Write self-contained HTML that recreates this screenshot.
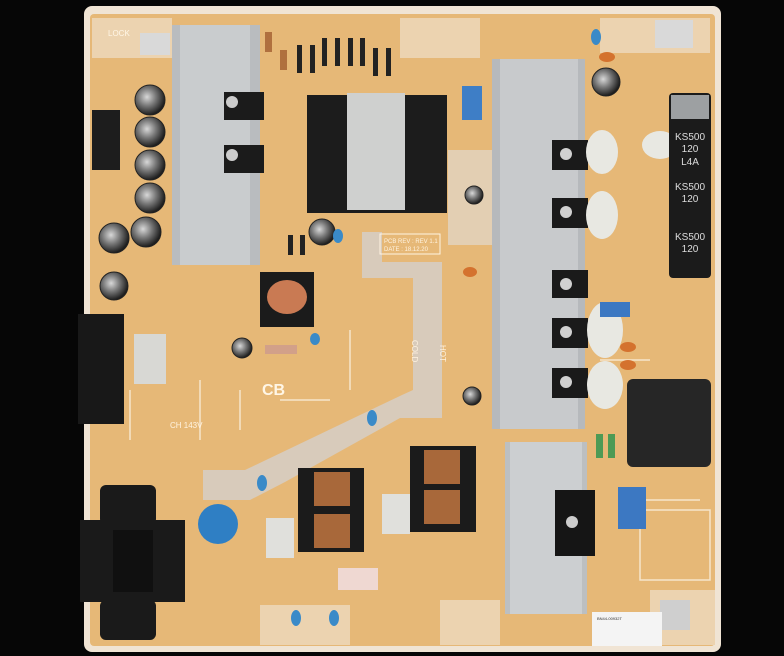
<!DOCTYPE html>
<html><head><meta charset="utf-8"><style>
html,body{margin:0;padding:0;background:#050505;}
svg{display:block;font-family:"Liberation Sans",sans-serif;}
</style></head><body>
<svg width="784" height="656" viewBox="0 0 784 656" xmlns="http://www.w3.org/2000/svg">
<defs>
<radialGradient id="cap" cx="40%" cy="40%" r="60%"><stop offset="0" stop-color="#d8d8d8"/><stop offset="0.5" stop-color="#777"/><stop offset="1" stop-color="#1e1e1e"/></radialGradient>
</defs>
<rect width="784" height="656" fill="#060606"/>
<rect x="84" y="6" width="637" height="646" rx="8" fill="#f0e4d4"/>
<rect x="90" y="14" width="625" height="632" rx="4" fill="#e6b877"/>
<rect x="92" y="18" width="80" height="40" fill="#ecd3b0"/>
<rect x="400" y="18" width="80" height="40" fill="#ecd3b0"/>
<rect x="600" y="18" width="110" height="35" fill="#ecd3b0"/>
<rect x="440" y="600" width="60" height="45" fill="#ecd3b0"/>
<rect x="650" y="590" width="65" height="55" fill="#ecd3b0"/>
<rect x="260" y="605" width="90" height="40" fill="#ecd3b0"/>
<!-- silkscreen lines -->
<g stroke="#f6e6cc" stroke-width="1.5" fill="none">
<line x1="200" y1="380" x2="200" y2="440"/><line x1="240" y1="390" x2="240" y2="430"/><line x1="300" y1="460" x2="300" y2="480"/>
<line x1="280" y1="400" x2="330" y2="400"/><line x1="600" y1="360" x2="650" y2="360"/><line x1="640" y1="500" x2="700" y2="500"/>
<rect x="640" y="510" width="70" height="70"/><line x1="130" y1="390" x2="130" y2="440"/><line x1="350" y1="330" x2="350" y2="390"/>
</g>
<polygon points="362,232 382,232 382,262 442,262 442,418 400,418 285,482 250,500 203,500 203,470 245,470 402,395 413,390 413,278 362,278" fill="#d8cbbb"/>
<polygon points="448,150 492,150 492,245 448,245" fill="#e3cfb3"/>
<rect x="172" y="25" width="88" height="240" fill="#b9bcbf"/>
<rect x="180" y="25" width="70" height="240" fill="#c9ccce"/>
<rect x="224" y="92" width="40" height="28" fill="#1b1b1b"/>
<rect x="224" y="145" width="40" height="28" fill="#1b1b1b"/>
<circle cx="232" cy="102" r="6" fill="#ccc"/><circle cx="232" cy="155" r="6" fill="#ccc"/>
<rect x="492" y="59" width="93" height="370" fill="#b6b9bc"/>
<rect x="500" y="59" width="78" height="370" fill="#c8cacc"/>
<g fill="#1a1a1a">
<rect x="552" y="140" width="36" height="30"/><rect x="552" y="198" width="36" height="30"/>
<rect x="552" y="270" width="36" height="28"/><rect x="552" y="318" width="36" height="30"/>
<rect x="552" y="368" width="36" height="30"/></g>
<g fill="#d0d0d0"><circle cx="566" cy="154" r="6"/><circle cx="566" cy="212" r="6"/><circle cx="566" cy="284" r="6"/><circle cx="566" cy="332" r="6"/><circle cx="566" cy="382" r="6"/></g>
<g fill="#e8e8e2"><ellipse cx="602" cy="152" rx="16" ry="22"/><ellipse cx="602" cy="215" rx="16" ry="24"/><ellipse cx="605" cy="330" rx="18" ry="28"/><ellipse cx="605" cy="385" rx="18" ry="24"/><ellipse cx="660" cy="145" rx="18" ry="14"/></g>
<rect x="505" y="442" width="82" height="172" fill="#bcbfc1"/>
<rect x="510" y="442" width="72" height="172" fill="#cccfd1"/>
<rect x="555" y="490" width="40" height="66" fill="#151515"/>
<circle cx="572" cy="522" r="6" fill="#ccc"/>
<rect x="307" y="95" width="140" height="118" fill="#1c1c1c"/>
<rect x="347" y="93" width="58" height="117" fill="#cfd0cf"/>
<rect x="462" y="86" width="20" height="34" fill="#3e7ec6"/>
<rect x="669" y="93" width="42" height="185" rx="4" fill="#1b1b1b"/>
<rect x="671" y="95" width="38" height="24" fill="#9da0a2"/>
<text x="690" y="140" fill="#ddd" font-size="10" text-anchor="middle">KS500</text>
<text x="690" y="152" fill="#ddd" font-size="10" text-anchor="middle">120</text>
<text x="690" y="165" fill="#ddd" font-size="10" text-anchor="middle">L4A</text>
<text x="690" y="190" fill="#ddd" font-size="10" text-anchor="middle">KS500</text>
<text x="690" y="202" fill="#ddd" font-size="10" text-anchor="middle">120</text>
<text x="690" y="240" fill="#ddd" font-size="10" text-anchor="middle">KS500</text>
<text x="690" y="252" fill="#ddd" font-size="10" text-anchor="middle">120</text>
<rect x="92" y="110" width="28" height="60" fill="#1d1d1d"/>
<rect x="78" y="314" width="46" height="110" fill="#181818"/>
<rect x="134" y="334" width="32" height="50" fill="#d8d8d4"/>
<g fill="url(#cap)" stroke="#222" stroke-width="1">
<circle cx="150" cy="100" r="15"/><circle cx="150" cy="132" r="15"/><circle cx="150" cy="165" r="15"/><circle cx="150" cy="198" r="15"/>
<circle cx="114" cy="238" r="15"/><circle cx="146" cy="232" r="15"/><circle cx="114" cy="286" r="14"/>
<circle cx="322" cy="232" r="13"/><circle cx="242" cy="348" r="10"/><circle cx="606" cy="82" r="14"/><circle cx="474" cy="195" r="9"/><circle cx="472" cy="396" r="9"/></g>
<rect x="260" y="272" width="54" height="55" fill="#1b1b1b"/>
<ellipse cx="287" cy="297" rx="20" ry="17" fill="#c97a53"/>
<rect x="298" y="468" width="66" height="84" fill="#1b1b1b"/>
<rect x="314" y="472" width="36" height="34" fill="#a8683a"/><rect x="314" y="514" width="36" height="34" fill="#a8683a"/>
<rect x="410" y="446" width="66" height="86" fill="#1b1b1b"/>
<rect x="424" y="450" width="36" height="34" fill="#a8683a"/><rect x="424" y="490" width="36" height="34" fill="#a8683a"/>
<rect x="266" y="518" width="28" height="40" fill="#e0e0dc"/>
<rect x="382" y="494" width="28" height="40" fill="#e0e0dc"/>
<rect x="338" y="568" width="40" height="22" fill="#efd8d2"/>
<rect x="618" y="487" width="28" height="42" fill="#3c78c2"/>
<rect x="600" y="302" width="30" height="15" fill="#3c78c2"/>
<circle cx="218" cy="524" r="20" fill="#2f7fc4"/>
<rect x="100" y="485" width="56" height="40" rx="6" fill="#1a1a1a"/>
<rect x="80" y="520" width="105" height="82" fill="#1a1a1a"/>
<rect x="100" y="600" width="56" height="40" rx="6" fill="#1a1a1a"/>
<rect x="113" y="530" width="40" height="62" fill="#101010"/>
<rect x="627" y="379" width="84" height="88" rx="6" fill="#262626"/>
<g fill="#3a8ac8"><ellipse cx="596" cy="37" rx="5" ry="8"/><ellipse cx="372" cy="418" rx="5" ry="8"/><ellipse cx="262" cy="483" rx="5" ry="8"/><ellipse cx="296" cy="618" rx="5" ry="8"/><ellipse cx="334" cy="618" rx="5" ry="8"/><ellipse cx="338" cy="236" rx="5" ry="7"/><ellipse cx="315" cy="339" rx="5" ry="6"/></g>
<g fill="#d4722e"><ellipse cx="607" cy="57" rx="8" ry="5"/><ellipse cx="470" cy="272" rx="7" ry="5"/><ellipse cx="628" cy="347" rx="8" ry="5"/><ellipse cx="628" cy="365" rx="8" ry="5"/></g>
<g fill="#222"><rect x="297" y="45" width="5" height="28"/><rect x="310" y="45" width="5" height="28"/><rect x="322" y="38" width="5" height="28"/><rect x="335" y="38" width="5" height="28"/><rect x="348" y="38" width="5" height="28"/><rect x="360" y="38" width="5" height="28"/><rect x="373" y="48" width="5" height="28"/><rect x="386" y="48" width="5" height="28"/><rect x="288" y="235" width="5" height="20"/><rect x="300" y="235" width="5" height="20"/></g>
<rect x="265" y="32" width="7" height="20" fill="#b0703e"/><rect x="280" y="50" width="7" height="20" fill="#b0703e"/>
<rect x="265" y="345" width="32" height="9" fill="#d2a089"/>
<rect x="596" y="434" width="7" height="24" fill="#4d9a55"/><rect x="608" y="434" width="7" height="24" fill="#4d9a55"/>
<rect x="140" y="33" width="30" height="22" fill="#d9d9d9"/>
<rect x="655" y="20" width="38" height="28" fill="#d9d9d9"/>
<rect x="660" y="600" width="30" height="30" fill="#cfcfcf"/>
<rect x="592" y="612" width="70" height="34" fill="#f4f4f4"/>
<text x="262" y="395" fill="#fff6e6" font-size="16" font-weight="bold">CB</text>
<text x="108" y="36" fill="#fff6e6" font-size="8">LOCK</text>
<rect x="380" y="234" width="60" height="20" fill="none" stroke="#fff3e0" stroke-width="1"/>
<text x="384" y="243" fill="#fff3e0" font-size="6">PCB REV : REV 1.1</text>
<text x="384" y="251" fill="#fff3e0" font-size="6">DATE : 18.12.20</text>
<text x="412" y="340" fill="#fff3e0" font-size="8" transform="rotate(90 412 340)">COLD</text>
<text x="440" y="345" fill="#fff3e0" font-size="8" transform="rotate(90 440 345)">HOT</text>
<text x="170" y="428" fill="#fff3e0" font-size="8">CH 143V</text>
<text x="597" y="620" fill="#333" font-size="4">BN44-00932T</text>
</svg>
</body></html>
